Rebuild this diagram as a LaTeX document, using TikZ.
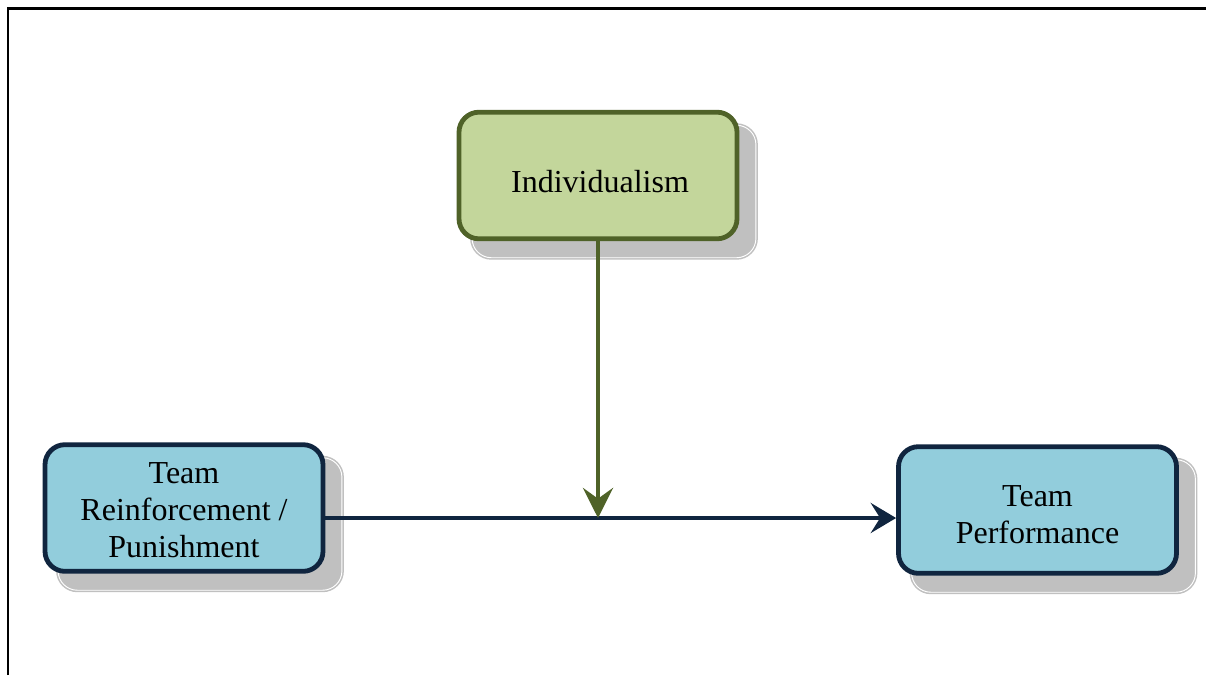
\documentclass[tikz,border=0pt]{standalone}
\usepackage{fontspec}
\setmainfont{Liberation Serif}
\usetikzlibrary{arrows.meta,backgrounds}
\definecolor{gfill}{HTML}{C3D69B}
\definecolor{gline}{HTML}{4F6228}
\definecolor{bfill}{HTML}{92CDDC}
\definecolor{bline}{HTML}{10253F}
\definecolor{shad}{HTML}{C0C0C0}
\newcommand\boxshadow[1]{%
  \fill[shad, rounded corners=16pt] ([shift={(13.5,13.5)}]#1.north west) rectangle ([shift={(18.5,18.5)}]#1.south east);
  \draw[white, line width=0.7pt, rounded corners=14.5pt] ([shift={(15.5,15.5)}]#1.north west) rectangle ([shift={(16.5,16.5)}]#1.south east);}
\begin{document}
\begin{tikzpicture}[x=0.75pt,y=-0.75pt,
  box/.style={rounded corners=15pt, line width=3.6pt, minimum width=208.5pt, minimum height=95pt, inner sep=0pt},
  gbox/.style={box, draw=gline, fill=gfill},
  bbox/.style={box, draw=bline, fill=bfill},
  lbl/.style={font=\fontsize{24}{27.6}\selectfont, align=center, inner sep=0pt},
  frame/.style={line width=1.8pt, line join=miter}]
\useasboundingbox (0,0) rectangle (1206,675);
\draw[frame] (8,675) -- (8,8.5) -- (1206,8.5);

\node[gbox] (ind) at (598,175.5) {};
\node[bbox] (lb) at (184,508) {};
\node[bbox] (rb) at (1037.5,510) {};

\begin{pgfonlayer}{background}
  \boxshadow{ind}
  \boxshadow{lb}
  \boxshadow{rb}
\end{pgfonlayer}

\node[lbl] (tind) at (600,182) {Individualism};
\node[lbl] (tlb) at (184,510) {Team\\Reinforcement /\\Punishment};
\node[lbl] (trb) at (1037.5,515) {Team\\Performance};

\coordinate (j) at (597,518);
\draw[bline, line width=3pt, -{Stealth[length=19pt,width=22.5pt,inset=7pt]}] (lb.east |- j) -- (rb.west |- j);
\draw[gline, line width=3.6pt, -{Stealth[length=22.5pt,width=22.5pt,inset=8pt]}] (ind.south) -- (ind.south |- j);
\end{tikzpicture}
\end{document}
